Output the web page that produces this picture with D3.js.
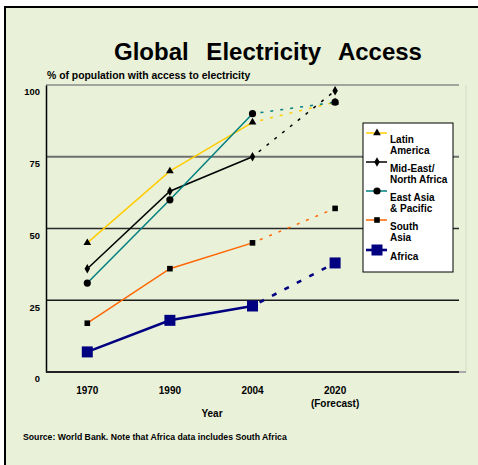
<!DOCTYPE html>
<html><head><meta charset="utf-8">
<script src="https://cdn.jsdelivr.net/npm/d3@7"></script>
<style>
html,body{margin:0;padding:0;background:#fff;}
text{font-family:"Liberation Sans",Arial,sans-serif;font-weight:bold;fill:#000;}
</style></head>
<body><svg id="c" width="478" height="465"></svg>
<script>
const years = ["1970","1990","2004","2020"];
const yTicks = [0,25,50,75,100];
const latinAmerica = [45,70,87,94];
const midEast = [36,63,75,98];
const eastAsia = [31,60,90,94];
const southAsia = [17,36,45,57];
const africa = [7,18,23,38];
const seriesNames = [["Latin","America"],["Mid-East/","North Africa"],["East Asia","& Pacific"],["South","Asia"],["Africa"]];
const seriesValues = [latinAmerica, midEast, eastAsia, southAsia, africa];
const seriesColors = ["#FFCC00","#000000","#008080","#FF6600","#000080"];
const seriesMarkers = ["triangle","diamond","circle","square","bigsquare"];

const svg = d3.select("#c");
// frame
svg.append("rect").attr("x",5).attr("y",7).attr("width",480).attr("height",470)
  .attr("fill","#E9F1D9").attr("stroke","#000").attr("stroke-width",2);

const L = 46, R = 459, T = 85, B = 372;
const x = d3.scaleBand().domain(years).range([L, L + 4*82.6]);
const y = d3.scaleLinear().domain([0,100]).range([B, T]);
const cx = d => x(d) + x.bandwidth()/2;

// title
svg.append("text").attr("x",268).attr("y",60).attr("text-anchor","middle")
  .style("font-size","24px").style("word-spacing","11px").text("Global Electricity Access");
svg.append("text").attr("x",47).attr("y",79).style("font-size","10.4px")
  .text("% of population with access to electricity");

// plot right border
svg.append("line").attr("x1",466).attr("x2",466).attr("y1",T).attr("y2",B)
  .attr("stroke","#d6dcc6").attr("stroke-width",1);
svg.append("line").attr("x1",R).attr("x2",466).attr("y1",B).attr("y2",B)
  .attr("stroke","#aaa").attr("stroke-width",2);

// gridlines
const gridColor = {25:"#1a1a1a",50:"#2a2a2a",75:"#6f6f6f",100:"#8a8a8a"};
svg.append("g").selectAll("line").data(yTicks.filter(t=>t>0)).join("line")
  .attr("x1",L).attr("x2",R).attr("y1",d=>y(d)).attr("y2",d=>y(d))
  .attr("stroke",d=>gridColor[d]).attr("stroke-width",d=>d===75?2:1.5);

// axes
const yAxis = d3.axisLeft(y).tickValues(yTicks).tickSize(0).tickPadding(6);
const gy = svg.append("g").attr("transform",`translate(${L},0)`).call(yAxis);
gy.select(".domain").attr("stroke","#000").attr("stroke-width",1.5);
gy.selectAll(".tick text").attr("dy","1.05em").style("font-size","9.4px")
  .style("font-family","'Liberation Sans',Arial,sans-serif").style("font-weight","bold");

const xAxis = d3.axisBottom(x).tickSize(0).tickPadding(15);
const gx = svg.append("g").attr("transform",`translate(0,${B})`).call(xAxis);
gx.select(".domain").remove();
gx.selectAll(".tick text").style("font-size","10px")
  .style("font-family","'Liberation Sans',Arial,sans-serif").style("font-weight","bold");
svg.append("line").attr("x1",L).attr("x2",R).attr("y1",B).attr("y2",B)
  .attr("stroke","#222").attr("stroke-width",2);
svg.append("text").attr("x",cx("2020")).attr("y",407).attr("text-anchor","middle")
  .style("font-size","10px").text("(Forecast)");
svg.append("text").attr("x",212).attr("y",417).attr("text-anchor","middle")
  .style("font-size","10px").text("Year");
svg.append("text").attr("x",23).attr("y",440).style("font-size","8.7px")
  .text("Source: World Bank. Note that Africa data includes South Africa");

function marker(g, type, px, py){
  if(type==="triangle") g.append("path").attr("d",d3.symbol(d3.symbolTriangle,26)()).attr("transform",`translate(${px},${py})`).attr("fill","#000");
  else if(type==="diamond") g.append("path").attr("d",d3.symbol(d3.symbolDiamond,26)()).attr("transform",`translate(${px},${py})`).attr("fill","#000");
  else if(type==="circle") g.append("circle").attr("cx",px).attr("cy",py).attr("r",3.6).attr("fill","#000");
  else if(type==="square") g.append("rect").attr("x",px-2.8).attr("y",py-2.8).attr("width",5.6).attr("height",5.6).attr("fill","#000");
  else g.append("rect").attr("x",px-5.5).attr("y",py-5.5).attr("width",11).attr("height",11).attr("fill","#000080");
}

const line = d3.line().x((d,i)=>cx(years[i])).y(d=>y(d));
seriesValues.forEach((vals,s)=>{
  const g = svg.append("g");
  const w = s===4 ? 2.6 : 1.5;
  g.append("path").attr("d", line(vals.slice(0,3))).attr("fill","none")
    .attr("stroke",seriesColors[s]).attr("stroke-width",w);
  const dashed = d3.line().x((d,i)=>cx(years[i+2])).y(d=>y(d));
  g.append("path").attr("d", dashed(vals.slice(2))).attr("fill","none")
    .attr("stroke",seriesColors[s]).attr("stroke-width",w)
    .attr("stroke-dasharray", s===4 ? "5,9" : "3,7").attr("stroke-dashoffset",-8);
  vals.forEach((v,i)=>marker(g, seriesMarkers[s], cx(years[i]), y(v)));
});

// legend
const lg = svg.append("g");
lg.append("rect").attr("x",363).attr("y",123).attr("width",90).attr("height",149)
  .attr("fill","#fff").attr("stroke","#000").attr("stroke-width",1);
const lineYs = [133,162,191,220,250];
seriesNames.forEach((nm,i)=>{
  const ly = lineYs[i];
  lg.append("line").attr("x1",366).attr("x2",387).attr("y1",ly).attr("y2",ly)
    .attr("stroke",seriesColors[i]).attr("stroke-width", i===4?2.6:1.5);
  marker(lg, seriesMarkers[i], 377, ly);
  nm.forEach((t,j)=>{
    lg.append("text").attr("x",390).attr("y",ly+10+j*11).style("font-size","10px").text(t);
  });
});
</script></body></html>
